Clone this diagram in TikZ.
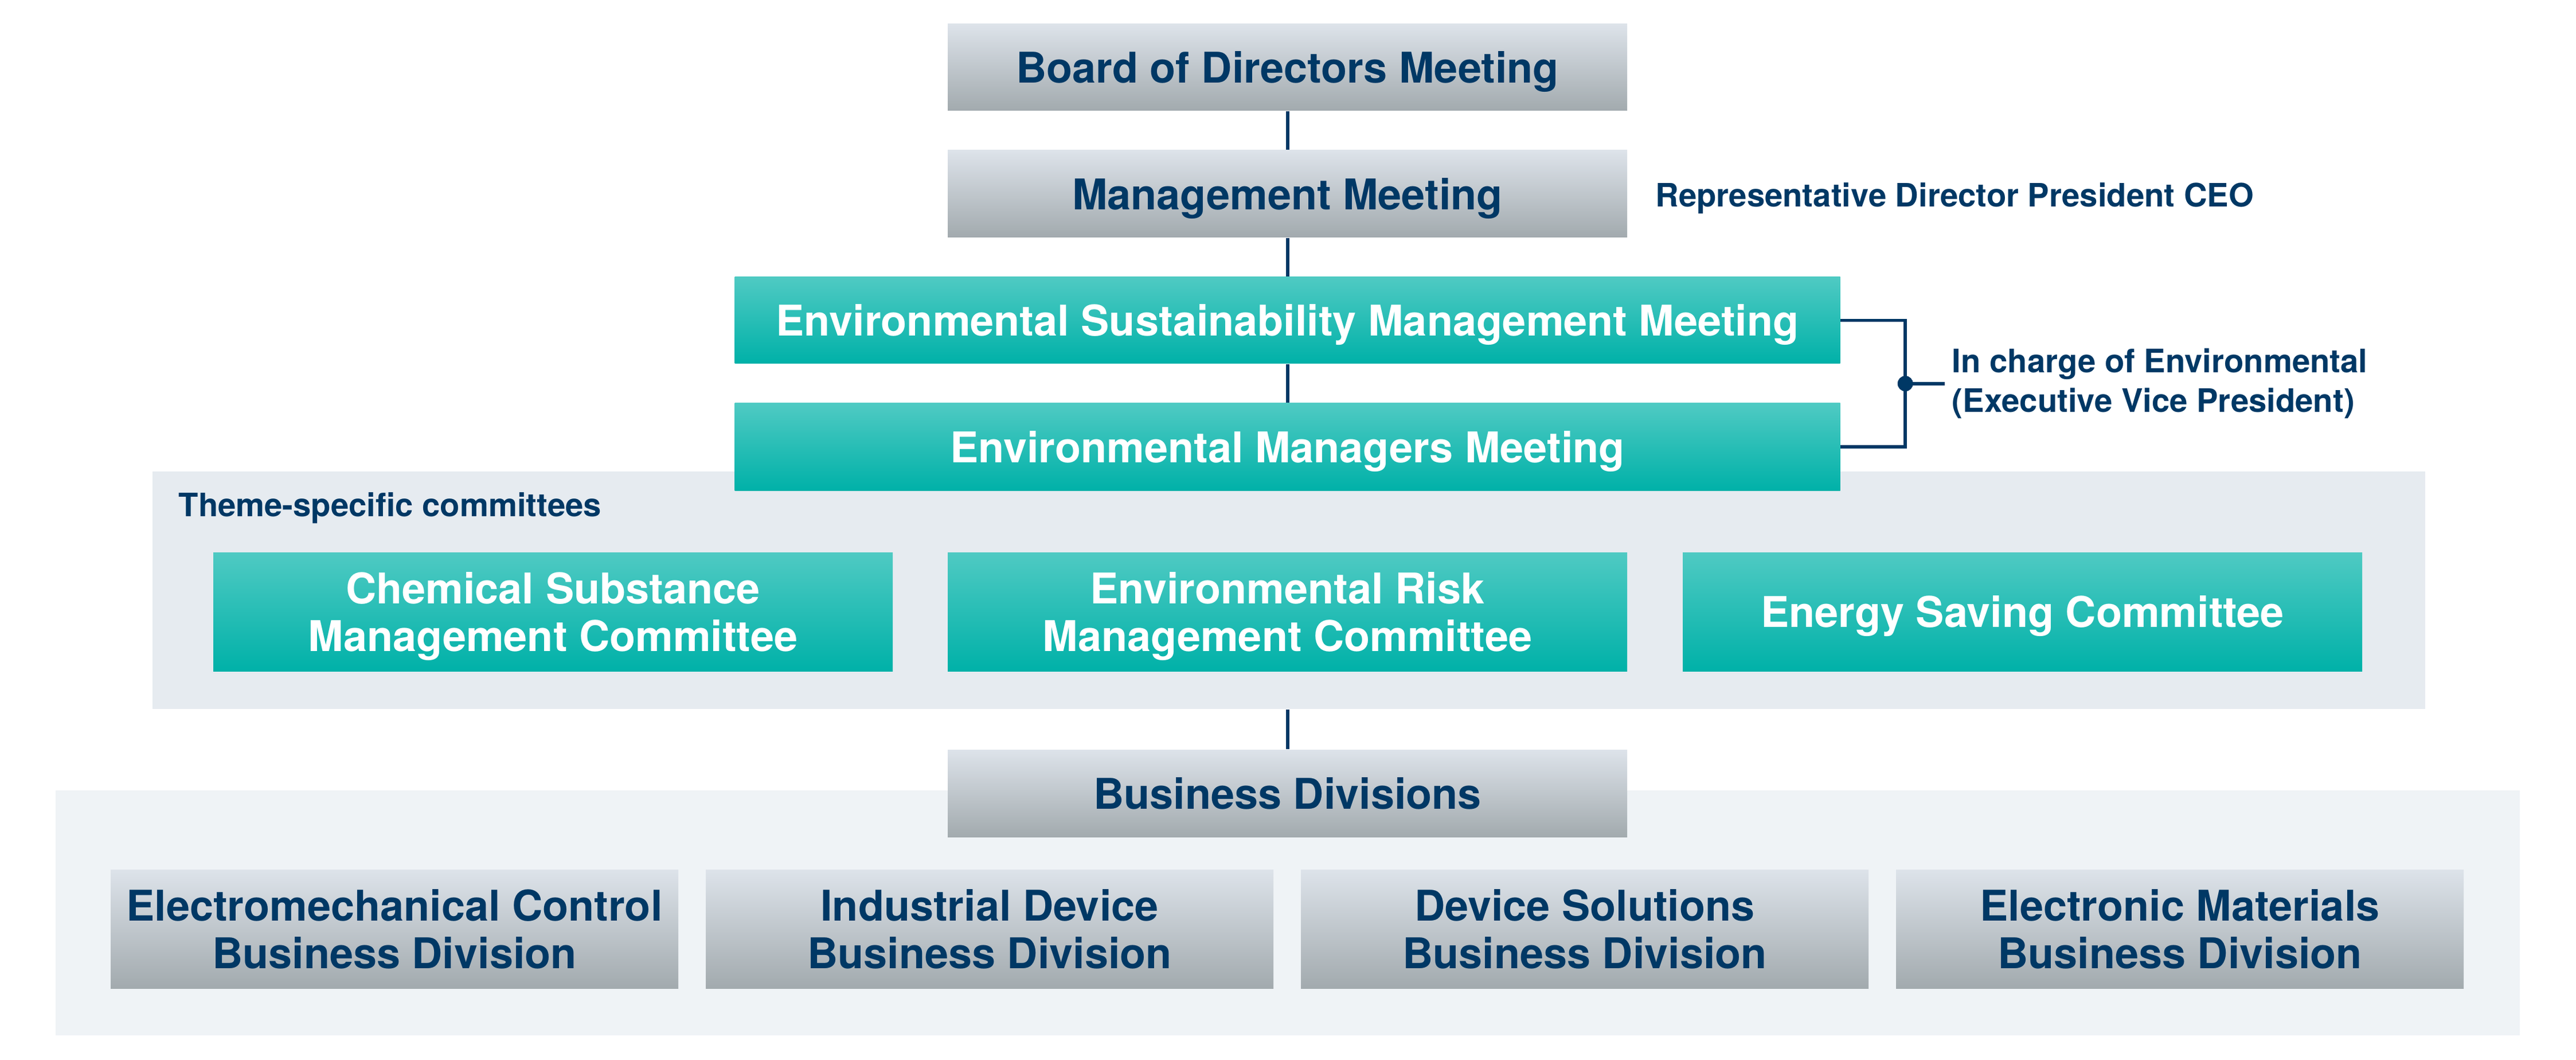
\documentclass[tikz,border=0pt]{standalone}
\usepackage{fontspec}
\setmainfont{TeX Gyre Heros}
\usepackage{tikz}
\usetikzlibrary{calc}

\definecolor{navy}{HTML}{003865}
\definecolor{greytop}{HTML}{DDE3EA}
\definecolor{greybot}{HTML}{A2AAAE}
\definecolor{tealtop}{HTML}{4FCAC3}
\definecolor{tealbot}{HTML}{00B1A8}
\definecolor{themegrey}{HTML}{E6EBF0}
\definecolor{divgrey}{HTML}{EFF3F6}

\begin{document}
\begin{tikzpicture}[
	greybox/.style={top color=greytop, bottom color=greybot, text=navy, align=center, inner sep=0pt, text depth=0pt,
		font=\bfseries\fontsize{21}{23.6}\selectfont},
	tealbox/.style={top color=tealtop, bottom color=tealbot, text=white, align=center, inner sep=0pt, text depth=0pt,
		font=\bfseries\fontsize{21}{23.6}\selectfont},
	panel/.style={inner sep=0pt},
	note/.style={text=navy, align=left, font=\bfseries\fontsize{16}{19.4}\selectfont},
	link/.style={draw=navy, line width=1.7pt}
]

		\useasboundingbox (0,0) rectangle (44.93,-18.48);

		% background panels
		\node[panel, fill=themegrey, minimum width=39.64cm, minimum height=4.14cm] (themes) at (22.48,-10.29) {};
		\node[panel, fill=divgrey, minimum width=42.98cm, minimum height=4.27cm] (divisions) at (22.46,-15.915) {};

		\node[note, anchor=base west, inner sep=0pt] (themelabel) at (3.11,-9.00) {Theme-specific committees};

		%%%%%%%%%%%%%%%%%%%%%%%%%%%%%%%%%%%%%%%%%%%%%%%%%%%%%%%%%%%%%%%%%%%%%

		\node[greybox, minimum width=11.85cm, minimum height=1.51cm] (board) at (22.455,-1.175) {Board of Directors Meeting};
		\node[greybox, minimum width=11.85cm, minimum height=1.52cm] (mgmt) at (22.455,-3.38) {Management Meeting};
		\node[tealbox, minimum width=19.28cm, minimum height=1.51cm] (envsus) at (22.455,-5.585) {Environmental Sustainability Management Meeting};
		\node[tealbox, minimum width=19.28cm, minimum height=1.52cm] (envmgr) at (22.455,-7.79) {Environmental Managers Meeting};

		\node[note, anchor=base west, inner sep=0pt] (ceo) at ($(mgmt.east)+(0.48,-0.23)$) {Representative Director President CEO};

		\draw[link] (board.south) -- (mgmt.north);
		\draw[link] (mgmt.south) -- (envsus.north);
		\draw[link] (envsus.south) -- (envmgr.north);

		% bracket to the officer in charge
		\coordinate (fork) at ($(envsus.east)!0.5!(envmgr.east)+(1.13,0)$);
		\draw[link] (envsus.east) -- ++(1.13,0) |- (envmgr.east);
		\fill[navy] (fork) circle (0.135);
		\node[note, anchor=west, inner xsep=0.12cm, inner ysep=0pt] (evp) at ($(fork)+(0.69,0)$) {In charge of Environmental\\(Executive Vice President)};
		\draw[link] (fork) -- (evp.west);

		%%%%%%%%%%%%%%%%%%%%%%%%%%%%%%%%%%%%%%%%%%%%%%%%%%%%%%%%%%%%%%%%%%%%%

		\node[tealbox, minimum width=11.85cm, minimum height=2.07cm] (chem) at (9.645,-10.665) {Chemical Substance\\Management Committee};
		\node[tealbox, minimum width=11.85cm, minimum height=2.07cm] (risk) at (22.455,-10.665) {Environmental Risk\\Management Committee};
		\node[tealbox, minimum width=11.85cm, minimum height=2.07cm] (energy) at (35.275,-10.665) {Energy Saving Committee};

		%%%%%%%%%%%%%%%%%%%%%%%%%%%%%%%%%%%%%%%%%%%%%%%%%%%%%%%%%%%%%%%%%%%%%

		\node[greybox, minimum width=11.85cm, minimum height=1.52cm] (business) at (22.455,-13.83) {Business Divisions};
		\draw[link] (risk.south |- themes.south) -- (business.north);

		\node[greybox, minimum width=9.9cm, minimum height=2.07cm] (emc) at (6.88,-16.195) {Electromechanical Control\\Business Division};
		\node[greybox, minimum width=9.9cm, minimum height=2.07cm] (idev) at (17.26,-16.195) {Industrial Device\\Business Division};
		\node[greybox, minimum width=9.9cm, minimum height=2.07cm] (dsol) at (27.64,-16.195) {Device Solutions\\Business Division};
		\node[greybox, minimum width=9.9cm, minimum height=2.07cm] (emat) at (38.02,-16.195) {Electronic Materials\\Business Division};

\end{tikzpicture}
\end{document}
